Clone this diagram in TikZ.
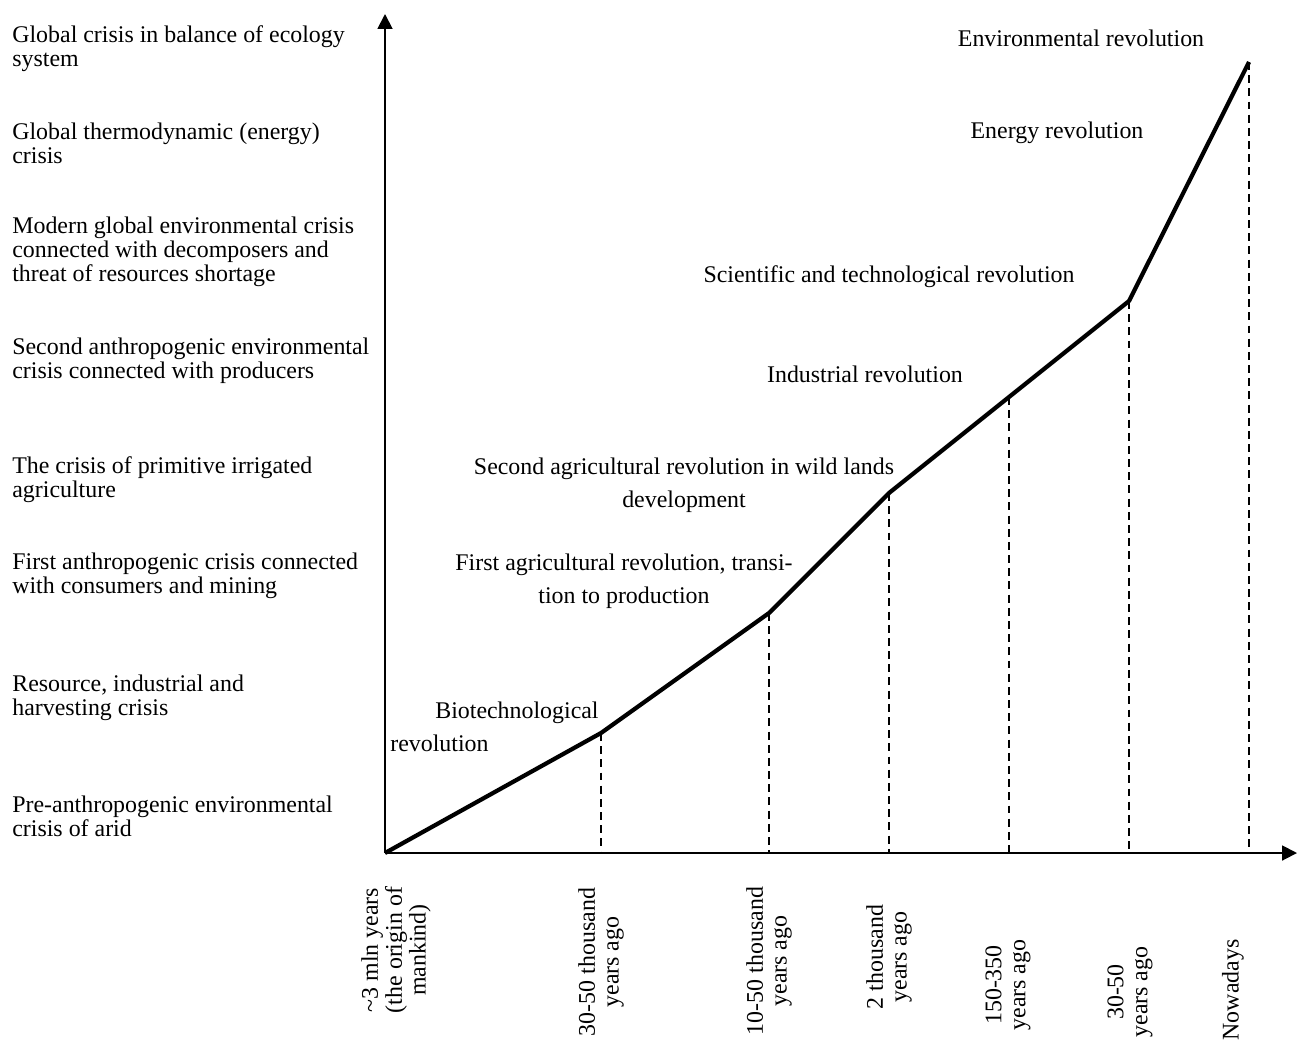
\documentclass[tikz,border=0pt]{standalone}
\usepackage{fontspec}
\setmainfont{Liberation Serif}
\usetikzlibrary{arrows.meta}
\usepackage{xcolor}
\definecolor{axisblack}{HTML}{000000}

\tikzset{
  crisis/.style={anchor=west, align=left, inner sep=0pt},
  revol/.style={align=center, inner sep=0pt,
    font=\fontsize{13.6pt}{18.7pt}\selectfont},
  era/.style={rotate=90, align=center, inner sep=0pt},
  axis/.style={line width=1.1pt, -{Triangle[length=8.5pt, width=8.5pt]}},
  trend/.style={line width=2.4pt, line join=round},
  drop/.style={line width=1pt, dash pattern=on 4.5pt off 3pt}
}

\begin{document}
\begin{tikzpicture}[x=0.02cm, y=-0.02cm,
    font=\fontsize{13.6pt}{13.6pt}\selectfont]
    \useasboundingbox (0,0) rectangle (1297,1041);

    % axes
    \coordinate (o) at (385,853);
    \coordinate (ytop) at (385,14);
    \coordinate (xend) at (1297,853);
    \draw[axis, axisblack] (o) -- (ytop);
    \draw[axis, axisblack] (o) -- (xend);

    % trend points
    \coordinate (p1) at (601,733);
    \coordinate (p2) at (769,613);
    \coordinate (p3) at (889,493);
    \coordinate (p4) at (1009,397);
    \coordinate (p5) at (1129,301);
    \coordinate (p6) at (1249,62);
    \draw[trend] (o) -- (p1) -- (p2) -- (p3) -- (p4) -- (p5) -- (p6);
    \draw[drop] (p1) -- (p1 |- o);
    \draw[drop] (p2) -- (p2 |- o);
    \draw[drop] (p3) -- (p3 |- o);
    \draw[drop] (p4) -- (p4 |- o);
    \draw[drop] (p5) -- (p5 |- o);
    \draw[drop] (p6) -- (p6 |- o);

    % crises
    \node[crisis] (c8) at (12,48.5) {Global crisis in balance of ecology\\system};
    \node[crisis] (c7) at (12,143.5) {Global thermodynamic (energy)\\crisis};
    \node[crisis] (c6) at (12,252) {Modern global environmental crisis\\connected with decomposers and\\threat of resources shortage};
    \node[crisis] (c5) at (12,360.5) {Second anthropogenic environmental\\crisis connected with producers};
    \node[crisis] (c4) at (12,480) {The crisis of primitive irrigated\\agriculture};
    \node[crisis] (c3) at (12,576) {First anthropogenic crisis connected\\with consumers and mining};
    \node[crisis] (c2) at (12,698) {Resource, industrial and\\harvesting crisis};
    \node[crisis] (c1) at (12,816) {Pre-anthropogenic environmental\\crisis of arid};

    % revolutions
    \node[revol, anchor=west, align=left] (r1) at (390,726.5)
      {\hspace*{0.9cm}Biotechnological\\revolution};
    \node[revol] (r2) at (624,581.5) {First agricultural revolution, transi-\\tion to production};
    \node[revol] (r3) at (684,485.5) {Second agricultural revolution in wild lands\\development};
    \node[revol] (r4) at (865,374) {Industrial revolution};
    \node[revol] (r5) at (889,277) {Scientific and technological revolution};
    \node[revol] (r6) at (1057,133) {Energy revolution};
    \node[revol] (r7) at (1081,38) {Environmental revolution};

    % time scale
    \node[era] (t0) at (396,950) {\textasciitilde3 mln years\\(the origin of\\mankind)};
    \node[era] (t1) at (601,962) {30-50 thousand\\years ago};
    \node[era] (t2) at (769,961) {10-50 thousand\\years ago};
    \node[era] (t3) at (889,957) {2 thousand\\years ago};
    \node[era] (t4) at (1008,985) {150-350\\years ago};
    \node[era] (t5) at (1130,992) {30-50\\years ago};
    \node[era] (t6) at (1233,990) {Nowadays};
\end{tikzpicture}
\end{document}
